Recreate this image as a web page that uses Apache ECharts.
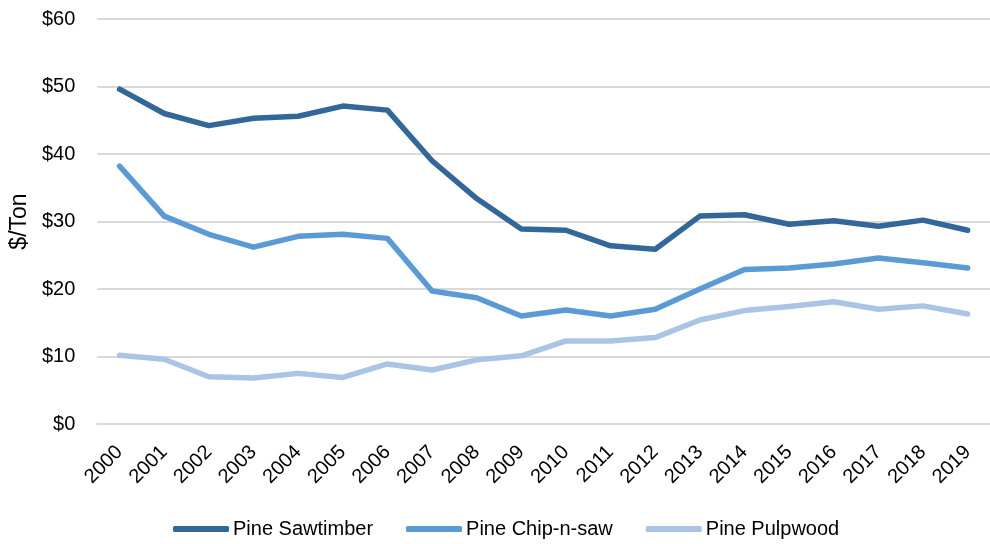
<!DOCTYPE html>
<html>
<head>
<meta charset="utf-8">
<title>Pine Stumpage Prices</title>
<script src="https://cdn.jsdelivr.net/npm/echarts@6/dist/echarts.min.js"></script>
<style>
  html, body { margin: 0; padding: 0; background: #fff; }
  #chart { width: 990px; height: 544px; }
</style>
</head>
<body>
<div id="chart"></div>
<script>
// Annual average pine stumpage prices, $/ton
const years = ['2000','2001','2002','2003','2004','2005','2006','2007','2008','2009',
               '2010','2011','2012','2013','2014','2015','2016','2017','2018','2019'];
const sawtimber = [49.6, 46.0, 44.2, 45.3, 45.6, 47.1, 46.5, 39.0, 33.4, 28.9,
                   28.7, 26.4, 25.9, 30.8, 31.0, 29.6, 30.1, 29.3, 30.2, 28.7];
const chipNSaw  = [38.2, 30.8, 28.1, 26.2, 27.8, 28.1, 27.5, 19.7, 18.7, 16.0,
                   16.9, 16.0, 17.0, 20.0, 22.9, 23.1, 23.7, 24.6, 23.9, 23.1];
const pulpwood  = [10.2, 9.6, 7.0, 6.8, 7.5, 6.9, 8.9, 8.0, 9.5, 10.1,
                   12.3, 12.3, 12.8, 15.4, 16.8, 17.4, 18.1, 17.0, 17.5, 16.3];
const seriesNames = ['Pine Sawtimber', 'Pine Chip-n-saw', 'Pine Pulpwood'];
const yTicks = { min: 0, max: 60, step: 10 };

const FONT = '"Liberation Sans Narrow", "Arial Narrow", "Liberation Sans", Arial, sans-serif';
const colors = ['#336699', '#5B9BD5', '#A9C4E4'];

const chart = echarts.init(document.getElementById('chart'), null, { renderer: 'canvas' });

function lineSeries(name, data, color) {
  return {
    name: name,
    type: 'line',
    data: data,
    symbol: 'none',
    smooth: false,
    lineStyle: { color: color, width: 5.5, cap: 'round', join: 'round' },
    itemStyle: { color: color }
  };
}

chart.setOption({
  animation: false,
  color: colors,
  grid: { left: 97, right: -10, top: 19, bottom: 120, containLabel: false },
  legend: {
    top: 514,
    left: 168,
    itemWidth: 56,
    itemHeight: 6,
    itemGap: 33,
    icon: 'roundRect',
    textStyle: { fontFamily: FONT, fontSize: 20, color: '#000', padding: [0, 0, 0, -1] },
    data: seriesNames
  },
  xAxis: {
    type: 'category',
    data: years,
    boundaryGap: true,
    axisLine: { show: true, lineStyle: { color: '#d9d9d9', width: 2 } },
    axisTick: { show: false },
    axisLabel: {
      rotate: 45,
      margin: 25,
      interval: 0,
      fontFamily: FONT,
      fontSize: 20,
      color: '#000'
    }
  },
  yAxis: {
    type: 'value',
    min: yTicks.min,
    max: yTicks.max,
    interval: yTicks.step,
    name: '$/Ton',
    nameLocation: 'middle',
    nameGap: 66,
    nameRotate: 90,
    nameTextStyle: { fontFamily: FONT, fontSize: 23, color: '#000' },
    axisLine: { show: false },
    axisTick: { show: false },
    splitLine: { lineStyle: { color: '#d9d9d9', width: 2 } },
    axisLabel: {
      margin: 22,
      fontFamily: FONT,
      fontSize: 20,
      color: '#000',
      formatter: v => '$' + v
    }
  },
  series: [
    lineSeries(seriesNames[0], sawtimber, colors[0]),
    lineSeries(seriesNames[1], chipNSaw, colors[1]),
    lineSeries(seriesNames[2], pulpwood, colors[2])
  ]
});
</script>
</body>
</html>
